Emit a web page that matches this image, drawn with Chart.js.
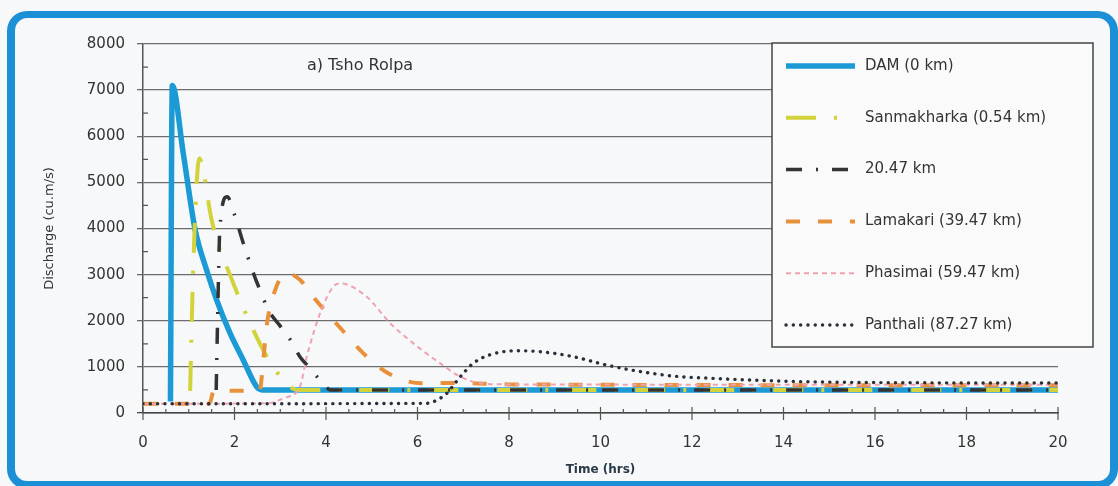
<!DOCTYPE html>
<html>
<head>
<meta charset="utf-8">
<script src="https://cdn.jsdelivr.net/npm/chart.js@4.4.1/dist/chart.umd.min.js"></script>
<style>
  html, body { margin: 0; padding: 0; background: #f7f8fa; }
  #wrap { position: relative; width: 1118px; height: 486px; overflow: hidden; }
  #frame {
    position: absolute; left: 7px; top: 11px; width: 1111px; height: 478px;
    box-sizing: border-box; border: 8px solid #1b90d6; border-top-width: 7px; border-radius: 20px;
    pointer-events: none;
  }
  canvas { position: absolute; left: 0; top: 0; }
</style>
</head>
<body>
<div id="wrap">
  <canvas id="chart" width="1118" height="486"></canvas>
  <div id="frame"></div>
</div>
<script>
// valori (tempo in ore, portata in m3/s)
const chartTitle = 'a) Tsho Rolpa';
const seriesNames = ['DAM (0 km)', 'Sanmakharka (0.54 km)', '20.47 km', 'Lamakari (39.47 km)', 'Phasimai (59.47 km)', 'Panthali (87.27 km)'];

const damTime = [0.6, 0.64, 0.88, 1.14, 1.39, 1.61, 1.9, 2.19, 2.49, 2.6, 20];
const damFlow = [250, 7100, 5630, 3970, 3100, 2450, 1735, 1150, 560, 500, 500];

const sanTime = [1.03, 1.1, 1.23, 1.5, 1.68, 1.9, 2.12, 2.41, 2.75, 3.07, 3.36, 20];
const sanFlow = [480, 3200, 5520, 4190, 3540, 3000, 2450, 1800, 1150, 715, 500, 500];

const km20Time = [1.6, 1.63, 1.68, 1.84, 2.0, 2.18, 2.4, 2.51, 2.76, 2.98, 3.2, 3.43, 3.65, 3.9, 4.1, 20];
const km20Flow = [500, 2000, 4000, 4690, 4300, 3720, 3070, 2780, 2200, 1910, 1620, 1220, 970, 680, 500, 500];

const lamTime = [0, 1.45, 1.55, 2.55, 2.63, 2.7, 2.89, 3.14, 3.43, 3.75, 4.29, 4.8, 5.36, 6.09, 6.85, 8, 20];
const lamFlow = [200, 200, 480, 480, 1150, 1870, 2670, 3030, 2890, 2480, 1870, 1310, 860, 645, 650, 620, 600];

const phaTime = [0, 2.7, 3.1, 3.43, 3.58, 3.87, 4.16, 4.31, 4.89, 5.4, 5.91, 6.49, 6.93, 7.37, 8, 20];
const phaFlow = [200, 210, 330, 570, 1220, 2160, 2740, 2810, 2520, 1950, 1510, 1080, 790, 645, 620, 610];

const panTime = [0, 6.2, 6.35, 6.64, 6.85, 7.0, 7.22, 7.58, 8.17, 8.68, 9.41, 10.13, 10.86, 11.59, 12.47, 14, 16, 20];
const panFlow = [200, 210, 245, 427, 680, 860, 1080, 1260, 1350, 1330, 1220, 1040, 900, 800, 750, 690, 660, 650];

const yTicks = [0, 1000, 2000, 3000, 4000, 5000, 6000, 7000, 8000];
const xTicks = [0, 2, 4, 6, 8, 10, 12, 14, 16, 18, 20];

// unisco tempi e portate in punti {x, y}
function toPoints(times, flows) {
  return times.map((t, i) => ({ x: t, y: flows[i] }));
}

function makeSet(label, times, flows, color, width, dash, cap, order) {
  return {
    label: label,
    data: toPoints(times, flows),
    borderColor: color,
    borderWidth: width,
    borderDash: dash,
    borderCapStyle: cap,
    pointRadius: 0,
    fill: false,
    order: order, // le serie successive vanno sopra
    cubicInterpolationMode: 'monotone'
  };
}

const datasets = [
  makeSet(seriesNames[0], damTime, damFlow, '#1b9ad6', 5.5, [], 'butt', 0),
  makeSet(seriesNames[1], sanTime, sanFlow, '#d2d23a', 4, [30, 18, 3, 18], 'butt', -1),
  makeSet(seriesNames[2], km20Time, km20Flow, '#333333', 3.5, [16, 14, 2, 14], 'butt', -2),
  makeSet(seriesNames[3], lamTime, lamFlow, '#e8913a', 4, [14, 18], 'butt', -3),
  makeSet(seriesNames[4], phaTime, phaFlow, '#f0a2b0', 2, [5, 4], 'butt', -4),
  makeSet(seriesNames[5], panTime, panFlow, '#2b2f3a', 3.4, [0.1, 7.2], 'round', -5)
];

// piccole tacche sugli assi
const tickMarks = {
  id: 'tickMarks',
  afterDraw(chart) {
    const { ctx, chartArea: area } = chart;
    const x = chart.scales.x, y = chart.scales.y;
    ctx.save();
    ctx.strokeStyle = '#555';
    ctx.lineWidth = 1.2;
    ctx.beginPath();
    for (let v = 500; v < 8000; v += 1000) {
      const py = y.getPixelForValue(v);
      ctx.moveTo(area.left, py);
      ctx.lineTo(area.left + 5, py);
    }
    for (let h = 0; h <= 20; h += 0.5) {
      const px = x.getPixelForValue(h);
      if (h % 2 === 0) {
        ctx.moveTo(px, area.bottom - 6);
        ctx.lineTo(px, area.bottom + 7);
      } else {
        ctx.moveTo(px, area.bottom - 4);
        ctx.lineTo(px, area.bottom);
      }
    }
    ctx.stroke();
    ctx.restore();
  }
};

// titolo interno e legenda nel riquadro
const boxLegend = {
  id: 'boxLegend',
  afterDraw(chart) {
    const ctx = chart.ctx;
    ctx.save();
    ctx.fillStyle = '#333';
    ctx.font = "16px 'DejaVu Sans'";
    ctx.textAlign = 'center';
    ctx.textBaseline = 'middle';
    ctx.fillText(chartTitle, 360, 66);

    ctx.fillStyle = '#fafafa';
    ctx.fillRect(772, 43, 321, 304);
    ctx.strokeStyle = '#444';
    ctx.lineWidth = 1.5;
    ctx.strokeRect(772, 43, 321, 304);

    ctx.textAlign = 'left';
    ctx.font = "15px 'DejaVu Sans'";
    chart.data.datasets.forEach((ds, i) => {
      const ly = 66 + i * 51.8;
      ctx.save();
      ctx.strokeStyle = ds.borderColor;
      ctx.lineWidth = ds.borderWidth;
      ctx.setLineDash(ds.borderDash);
      ctx.lineCap = ds.borderCapStyle;
      ctx.beginPath();
      ctx.moveTo(786, ly);
      ctx.lineTo(855, ly);
      ctx.stroke();
      ctx.restore();
      ctx.fillStyle = '#333';
      ctx.fillText(ds.label, 865, ly);
    });
    ctx.restore();
  }
};

Chart.defaults.font.family = "'DejaVu Sans', sans-serif";
Chart.defaults.color = '#333';

const ctx = document.getElementById('chart').getContext('2d');
const myChart = new Chart(ctx, {
  type: 'line',
  data: { datasets: datasets },
  plugins: [tickMarks, boxLegend],
  options: {
    responsive: false,
    animation: false,
    devicePixelRatio: 1,
    layout: { padding: { left: 0, top: 44, right: 60, bottom: 0 } },
    plugins: { legend: { display: false }, tooltip: { enabled: false } },
    scales: {
      x: {
        type: 'linear',
        min: 0,
        max: 20,
        afterBuildTicks: (scale) => { scale.ticks = xTicks.map(v => ({ value: v })); },
        afterFit: (scale) => { scale.height = 73; },
        grid: { display: false },
        border: { display: true, color: '#444', width: 1.5 },
        ticks: { font: { size: 15 }, padding: 13, maxRotation: 0, callback: (v) => String(v) },
        title: {
          display: true,
          text: 'Time (hrs)',
          color: '#2a3a48',
          font: { size: 12, weight: 'bold' },
          padding: { top: 0, bottom: 9 }
        }
      },
      y: {
        min: 0,
        max: 8000,
        afterBuildTicks: (scale) => { scale.ticks = yTicks.map(v => ({ value: v })); },
        afterFit: (scale) => { scale.width = 143; },
        grid: {
          color: (c) => c.tick && c.tick.value === 0 ? '#444' : '#6c6c6c',
          lineWidth: 1.3,
          drawTicks: true,
          tickLength: 6
        },
        border: { display: true, color: '#555', width: 1.5 },
        ticks: { font: { size: 15 }, padding: 12, callback: (v) => String(v) },
        title: {
          display: true,
          text: 'Discharge (cu.m/s)',
          color: '#333',
          font: { size: 13 },
          padding: { top: 42, bottom: 0 }
        }
      }
    }
  }
});
</script>
</body>
</html>
